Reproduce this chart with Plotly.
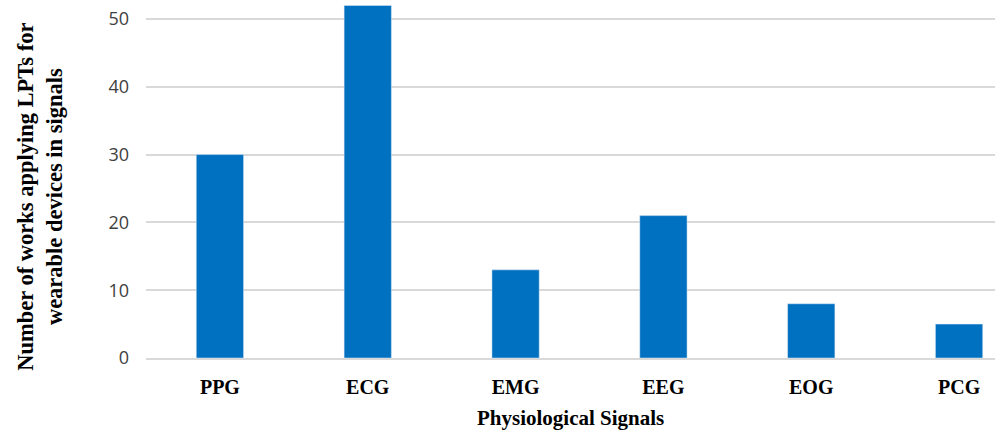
import plotly.graph_objects as go

categories = ["PPG", "ECG", "EMG", "EEG", "EOG", "PCG"]
values = [30, 52, 13, 21, 8, 5]
y_ticks = [0, 10, 20, 30, 40, 50]

fig = go.Figure(go.Bar(x=categories, y=values, marker_color="#0070C0", width=0.32))

serif = "Liberation Serif, Times New Roman, serif"

fig.update_layout(
    width=995, height=434,
    margin=dict(l=146, r=0, t=0, b=76, autoexpand=False),
    plot_bgcolor="white", paper_bgcolor="white",
    showlegend=False,
)
fig.update_xaxes(
    range=[-0.5, 5.243], automargin=False,
    tickfont=dict(family=serif, size=20, color="black", weight="bold"),
    showline=True, linecolor="#d9d9d9", linewidth=1.5,
    ticks="", ticklabelstandoff=10,
)
fig.update_yaxes(
    range=[0, 52.8], automargin=False,
    tickvals=y_ticks,
    tickfont=dict(family="Open Sans, sans-serif", size=18, color="#404040"),
    showgrid=True, gridcolor="#d9d9d9", gridwidth=1.5,
    zeroline=False, ticks="", ticklabelstandoff=16,
)
fig.add_annotation(
    text="<b>Physiological Signals</b>",
    xref="paper", yref="paper", x=0.5, y=-0.167,
    xanchor="center", yanchor="middle", showarrow=False,
    font=dict(family=serif, size=21, color="black"),
)
fig.add_annotation(
    text="<b>Number of works applying LPTs for<br>wearable devices in signals</b>",
    xref="paper", yref="paper", x=-0.125, y=0.45,
    xanchor="center", yanchor="middle", textangle=-90, showarrow=False,
    font=dict(family=serif, size=22.5, color="black"),
)

fig.write_html(
    "out.html",
    config={"displayModeBar": False},
    post_script="document.body.style.margin='0';document.body.style.overflow='hidden';",
)
